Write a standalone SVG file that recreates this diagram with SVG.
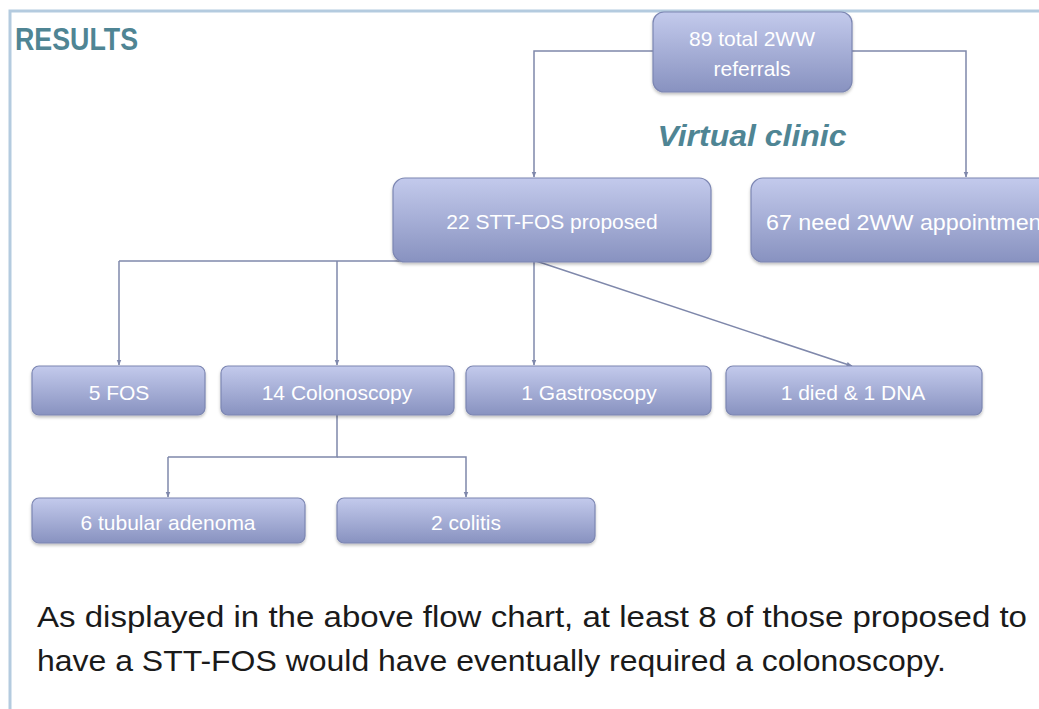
<svg xmlns="http://www.w3.org/2000/svg" width="1039" height="709" viewBox="0 0 1039 709">
<style>
.node{fill:url(#g);stroke:#7c86b2;stroke-width:1.2;filter:url(#sh)}
.lbl{font-family:"Liberation Sans",Arial,sans-serif;font-size:21px;fill:#ffffff;text-anchor:middle}
.lbl-s{font-family:"Liberation Sans",Arial,sans-serif;font-size:22px;fill:#ffffff;text-anchor:start}
.conn{fill:none;stroke:#7f88ab;stroke-width:1.5;marker-end:url(#arr)}
.line{fill:none;stroke:#7f88ab;stroke-width:1.5}
.title{font-family:"Liberation Sans",Arial,sans-serif;font-weight:bold;fill:#4f8594}
.body{font-family:"Liberation Sans",Arial,sans-serif;font-size:30px;fill:#1a1a1a}
</style>
<defs>
<linearGradient id="g" x1="0" y1="0" x2="0" y2="1">
<stop offset="0" stop-color="#c3caec"/>
<stop offset="1" stop-color="#8892c0"/>
</linearGradient>
<filter id="sh" x="-10%" y="-10%" width="120%" height="140%">
<feDropShadow dx="0" dy="2" stdDeviation="1.5" flood-color="#000" flood-opacity="0.25"/>
</filter>
<marker id="arr" viewBox="0 0 10 10" refX="9" refY="5" markerWidth="6" markerHeight="6" orient="auto" markerUnits="userSpaceOnUse">
<path d="M0,1 L10,5 L0,9 z" fill="#7f88ab"/>
</marker>
</defs>
<rect width="1039" height="709" fill="#ffffff"/>
<g id="frame">
<path d="M1039,11 H10 V709" fill="none" stroke="#b4cbdf" stroke-width="3"/>
</g>
<text class="title" x="15" y="50" font-size="31" textLength="123" lengthAdjust="spacingAndGlyphs">RESULTS</text>
<text class="title" x="752" y="146" font-size="30" font-style="italic" text-anchor="middle" textLength="189" lengthAdjust="spacingAndGlyphs">Virtual clinic</text>
<g id="connectors">
<path class="conn" d="M653,51 H534 V177"/>
<path class="conn" d="M852,51 H966 V177"/>
<path class="line" d="M534,261 H119"/>
<path class="conn" d="M119,261 V365"/>
<path class="conn" d="M337,261 V365"/>
<path class="conn" d="M534,261 V365"/>
<path class="conn" d="M536,261 L852,366"/>
<path class="line" d="M337,415 V457 H168"/>
<path class="conn" d="M168,457 V497"/>
<path class="conn" d="M337,457 H466 V497"/>
</g>
<g id="n-top">
<rect class="node" x="653" y="12" width="199" height="80" rx="11"/>
<text class="lbl" x="752" y="46">89 total 2WW</text>
<text class="lbl" x="752" y="76">referrals</text>
</g>
<g id="n-stt">
<rect class="node" x="393" y="178" width="318" height="84" rx="12"/>
<text class="lbl" x="552" y="229">22 STT-FOS proposed</text>
</g>
<g id="n-67">
<rect class="node" x="751" y="178" width="320" height="84" rx="12"/>
<text class="lbl-s" x="766" y="230" textLength="282" lengthAdjust="spacingAndGlyphs">67 need 2WW appointment</text>
</g>
<g id="n-fos">
<rect class="node" x="32" y="366" width="173" height="49" rx="7"/>
<text class="lbl" x="119" y="400">5 FOS</text>
</g>
<g id="n-colon">
<rect class="node" x="221" y="366" width="233" height="49" rx="7"/>
<text class="lbl" x="337" y="400">14 Colonoscopy</text>
</g>
<g id="n-gastro">
<rect class="node" x="466" y="366" width="245" height="49" rx="7"/>
<text class="lbl" x="589" y="400">1 Gastroscopy</text>
</g>
<g id="n-died">
<rect class="node" x="726" y="366" width="256" height="49" rx="7"/>
<text class="lbl" x="853" y="400">1 died &amp; 1 DNA</text>
</g>
<g id="n-tub">
<rect class="node" x="32" y="498" width="273" height="45" rx="7"/>
<text class="lbl" x="168" y="530">6 tubular adenoma</text>
</g>
<g id="n-colitis">
<rect class="node" x="337" y="498" width="258" height="45" rx="7"/>
<text class="lbl" x="466" y="530">2 colitis</text>
</g>
<text class="body" x="37" y="627" textLength="990" lengthAdjust="spacingAndGlyphs">As displayed in the above flow chart, at least 8 of those proposed to</text>
<text class="body" x="37" y="671" textLength="909" lengthAdjust="spacingAndGlyphs">have a STT-FOS would have eventually required a colonoscopy.</text>
</svg>
